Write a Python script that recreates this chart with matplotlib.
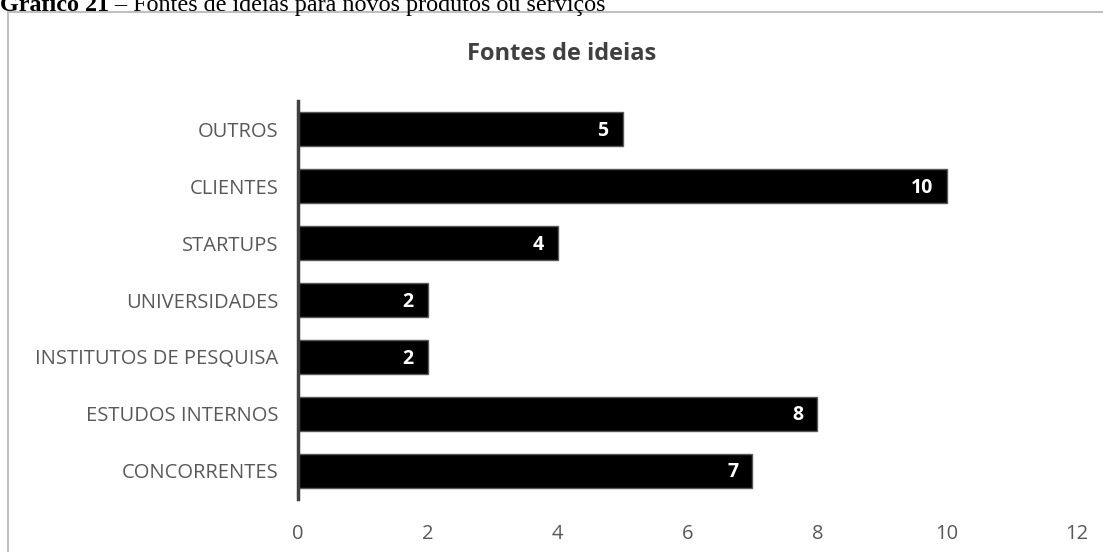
import matplotlib.pyplot as plt
from matplotlib.patches import Rectangle

# data, bottom to top
categorias = ['CONCORRENTES', 'ESTUDOS INTERNOS', 'INSTITUTOS DE PESQUISA',
              'UNIVERSIDADES', 'STARTUPS', 'CLIENTES', 'OUTROS']
valores = [7, 8, 2, 2, 4, 10, 5]
x_ticks = [0, 2, 4, 6, 8, 10, 12]

W, H = 1103, 552
fig = plt.figure(figsize=(W / 100, H / 100), dpi=100)

# light gray frame of the chart area (runs off the right and bottom)
fig.patches.append(Rectangle((8 / W, -0.1), 1.2, 1.1 - 12 / H,
                             transform=fig.transFigure, fill=False,
                             edgecolor='#c0c0c0', linewidth=1.5))

ax = fig.add_axes([298 / W, 1 - 499 / H, (1077 - 298) / W, (499 - 101) / H])
y = range(len(categorias))
bars = ax.barh(y, valores, height=0.6, color='black', edgecolor='#595959', linewidth=1)

for b, v in zip(bars, valores):
    ax.text(b.get_width() - 0.22, b.get_y() + b.get_height() / 2 - 0.03, str(v),
            ha='right', va='center', color='white', fontsize=14,
            fontweight='bold', family='Open Sans')

ax.set_xlim(0, 12)
ax.set_ylim(-0.5, len(categorias) - 0.5)
ax.set_xticks(x_ticks)
ax.set_yticks(list(y))
ax.set_yticklabels(categorias)
for lab in ax.get_xticklabels() + ax.get_yticklabels():
    lab.set_family('Open Sans')
    lab.set_fontsize(14.5)
    lab.set_color('#595959')
ax.tick_params(length=0)
ax.tick_params(axis='x', pad=18)
ax.tick_params(axis='y', pad=14)
for s in ['top', 'right', 'bottom']:
    ax.spines[s].set_visible(False)
ax.spines['left'].set_color('#404040')
ax.spines['left'].set_linewidth(2.5)

fig.text(562 / W, 1 - 54 / H, 'Fontes de ideias', ha='center', va='center',
         fontsize=17, fontweight='bold', color='#404040', family='Open Sans')

# caption, cut off at the top of the picture as in the source
t1 = fig.text(0, 1 - 11 / H, 'Gráfico 21', ha='left', va='baseline',
              fontsize=17.4, fontweight='bold', family='Liberation Serif')
fig.canvas.draw()
bb = t1.get_window_extent()
fig.text(bb.x1 / W, 1 - 11 / H, ' – Fontes de ideias para novos produtos ou serviços',
         ha='left', va='baseline', fontsize=17.4, family='Liberation Serif')

fig.savefig('out.png', dpi=100)
